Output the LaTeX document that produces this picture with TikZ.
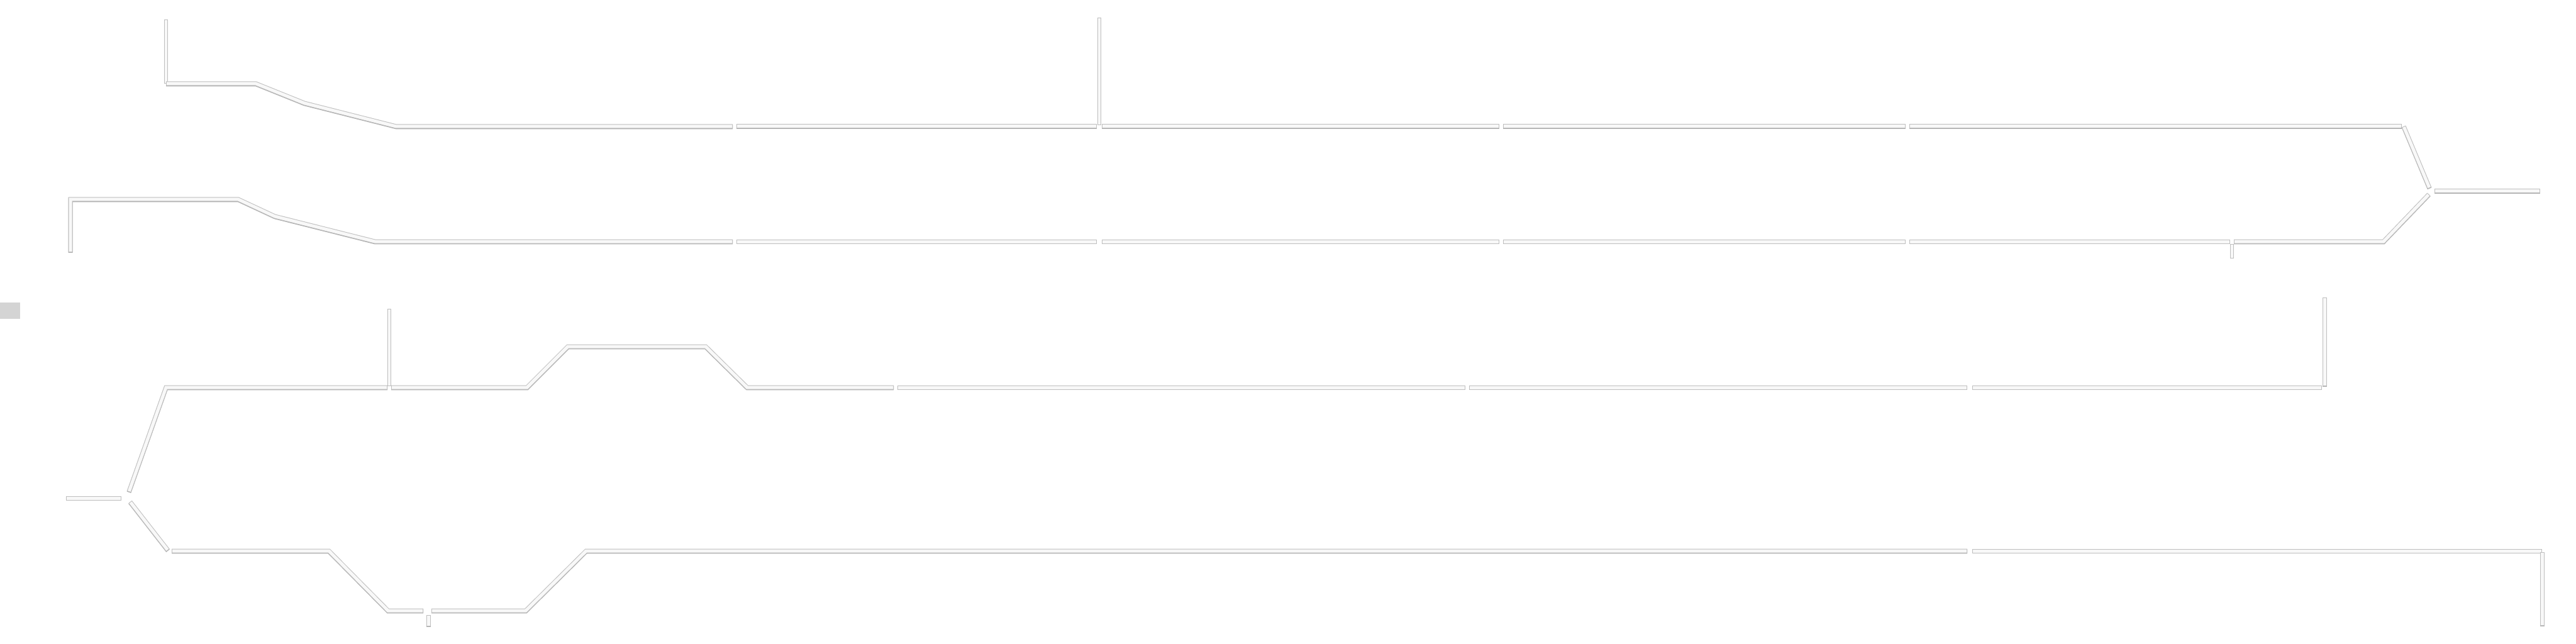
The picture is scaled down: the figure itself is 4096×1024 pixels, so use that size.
\documentclass[tikz,border=0pt]{standalone}
\definecolor{pipeedge}{HTML}{BEBEBE}
\definecolor{pipefill}{HTML}{F8F8F8}
\definecolor{pipeshade}{HTML}{ADADAD}
\definecolor{sqgray}{HTML}{D4D4D4}
\begin{document}
\begin{tikzpicture}[x=1pt,y=-1pt,
  pipe/.style={draw=pipeedge, line width=7pt, line cap=butt, line join=miter,
    preaction={draw=pipeshade, line width=7pt, transform canvas={yshift=-0.8pt}},
    postaction={draw=pipefill, line width=5pt, shorten <=1pt, shorten >=1pt}},
  thinpipe/.style={draw=pipeedge, line width=5.5pt, line cap=butt, line join=miter,
    preaction={draw=pipeshade, line width=5.5pt, transform canvas={xshift=-0.6pt}},
    postaction={draw=pipefill, line width=3.8pt, shorten <=0.8pt, shorten >=0.8pt}}]
\useasboundingbox (0,0) rectangle (4096,1024);
\fill[sqgray] (0,481) rectangle (32,507);

% ---- line A (top)
\coordinate (a0) at (264,31);
\coordinate (a1) at (264,133);
\coordinate (a2) at (407,133);
\coordinate (a3) at (484,164);
\coordinate (a4) at (630,201);
\coordinate (a5) at (1165,201);
\coordinate (a6) at (1171,201);
\coordinate (a7) at (1744,201);
\coordinate (a8) at (1752,201);
\coordinate (a9) at (2384,201);
\coordinate (a10) at (2390,201);
\coordinate (a11) at (3030,201);
\coordinate (a12) at (3036,201);
\coordinate (a13) at (3819,201);
\coordinate (a14) at (3822,201);
\coordinate (a15) at (3863,299);
\coordinate (r0) at (3871,304);
\coordinate (r1) at (4039,304);
\coordinate (v1a) at (1748,28);
\coordinate (v1b) at (1748,199);
\draw[thinpipe] (a0) -- (a1);
\draw[pipe] (a1) -- (a2) -- (a3) -- (a4) -- (a5);
\draw[pipe] (a6) -- (a7);
\draw[pipe] (a8) -- (a9);
\draw[pipe] (a10) -- (a11);
\draw[pipe] (a12) -- (a13);
\draw[pipe] (a14) -- (a15);
\draw[pipe] (r0) -- (r1);
\draw[thinpipe] (v1a) -- (v1b);

% ---- line B
\coordinate (b0) at (112,401);
\coordinate (b1) at (112,317);
\coordinate (b2) at (379,317);
\coordinate (b3) at (437,344);
\coordinate (b4) at (596,384);
\coordinate (b5) at (1165,384);
\coordinate (b6) at (1171,384);
\coordinate (b7) at (1744,384);
\coordinate (b8) at (1752,384);
\coordinate (b9) at (2384,384);
\coordinate (b10) at (2390,384);
\coordinate (b11) at (3030,384);
\coordinate (b12) at (3036,384);
\coordinate (b13) at (3546,384);
\coordinate (b14) at (3552,384);
\coordinate (b15) at (3790,384);
\coordinate (b16) at (3862,309);
\coordinate (t0) at (3549,388);
\coordinate (t1) at (3549,411);
\draw[pipe] (b0) -- (b1) -- (b2) -- (b3) -- (b4) -- (b5);
\draw[pipe] (b6) -- (b7);
\draw[pipe] (b8) -- (b9);
\draw[pipe] (b10) -- (b11);
\draw[pipe] (b12) -- (b13);
\draw[pipe] (b14) -- (b15) -- (b16);
\draw[thinpipe] (t0) -- (t1);

% ---- line C
\coordinate (c0) at (205,782);
\coordinate (c1) at (264,616);
\coordinate (c2) at (616,616);
\coordinate (c3) at (622,616);
\coordinate (c4) at (838,616);
\coordinate (c5) at (903,551);
\coordinate (c6) at (1122,551);
\coordinate (c7) at (1188,616);
\coordinate (c8) at (1421,616);
\coordinate (c9) at (1427,616);
\coordinate (c10) at (2330,616);
\coordinate (c11) at (2336,616);
\coordinate (c12) at (3128,616);
\coordinate (c13) at (3136,616);
\coordinate (c14) at (3692,616);
\coordinate (v2a) at (619,491);
\coordinate (v2b) at (619,614);
\coordinate (v3a) at (3696,473);
\coordinate (v3b) at (3696,614);
\draw[pipe] (c0) -- (c1) -- (c2);
\draw[pipe] (c3) -- (c4) -- (c5) -- (c6) -- (c7) -- (c8);
\draw[pipe] (c9) -- (c10);
\draw[pipe] (c11) -- (c12);
\draw[pipe] (c13) -- (c14);
\draw[thinpipe] (v2a) -- (v2b);
\draw[pipe] (v3a) -- (v3b);

% ---- left stub
\coordinate (s0) at (105,792);
\coordinate (s1) at (193,792);
\draw[pipe] (s0) -- (s1);

% ---- line D
\coordinate (d0) at (207,798);
\coordinate (d1) at (267,875);
\coordinate (d2) at (273,876);
\coordinate (d3) at (523,876);
\coordinate (d4) at (617,971);
\coordinate (d5) at (673,971);
\coordinate (d6) at (686,971);
\coordinate (d7) at (836,971);
\coordinate (d8) at (932,876);
\coordinate (d9) at (3128,876);
\coordinate (d10) at (3136,876);
\coordinate (d11) at (4042,876);
\coordinate (e0) at (681,978);
\coordinate (e1) at (681,996);
\coordinate (f0) at (4042,878);
\coordinate (f1) at (4042,995);
\draw[pipe] (d0) -- (d1);
\draw[pipe] (d2) -- (d3) -- (d4) -- (d5);
\draw[pipe] (d6) -- (d7) -- (d8) -- (d9);
\draw[pipe] (d10) -- (d11);
\draw[pipe] (e0) -- (e1);
\draw[pipe] (f0) -- (f1);
\end{tikzpicture}
\end{document}
